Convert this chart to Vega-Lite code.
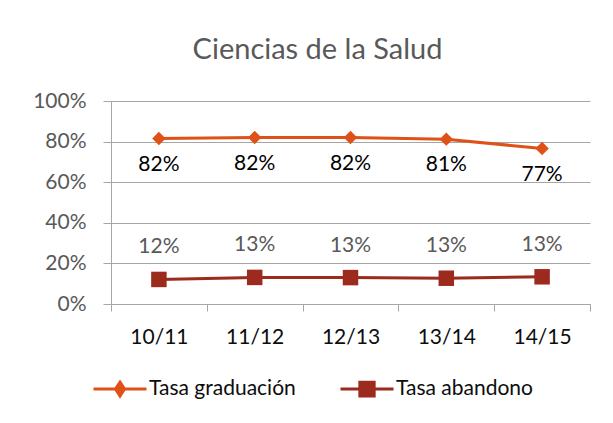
{
  "$schema": "https://vega.github.io/schema/vega-lite/v6.json",
  "width": 479,
  "height": 203,
  "autosize": {"type": "none"},
  "padding": {"left": 111, "top": 101, "right": 23, "bottom": 119},
  "background": "#ffffff",
  "title": {
    "text": "Ciencias de la Salud",
    "font": "Lato",
    "fontSize": 29,
    "fontWeight": "normal",
    "color": "#595959",
    "anchor": "middle",
    "frame": "group",
    "dx": -33,
    "offset": 25
  },
  "data": {
    "values": [
      {"periodo": "10/11", "serie": "Tasa graduación", "valor": 0.815},
      {"periodo": "11/12", "serie": "Tasa graduación", "valor": 0.82},
      {"periodo": "12/13", "serie": "Tasa graduación", "valor": 0.82},
      {"periodo": "13/14", "serie": "Tasa graduación", "valor": 0.812},
      {"periodo": "14/15", "serie": "Tasa graduación", "valor": 0.766},
      {"periodo": "10/11", "serie": "Tasa abandono", "valor": 0.121},
      {"periodo": "11/12", "serie": "Tasa abandono", "valor": 0.131},
      {"periodo": "12/13", "serie": "Tasa abandono", "valor": 0.13},
      {"periodo": "13/14", "serie": "Tasa abandono", "valor": 0.127},
      {"periodo": "14/15", "serie": "Tasa abandono", "valor": 0.134}
    ]
  },
  "encoding": {
    "x": {
      "field": "periodo",
      "type": "ordinal",
      "sort": ["10/11", "11/12", "12/13", "13/14", "14/15"],
      "scale": {"type": "band", "paddingInner": 0, "paddingOuter": 0},
      "axis": {
        "title": null,
        "labelAngle": 0,
        "tickBand": "extent",
        "tickSize": 7,
        "tickColor": "#a6a6a6",
        "domainColor": "#a6a6a6",
        "labelColor": "#0d0d0d",
        "labelPadding": 15,
        "grid": false
      }
    },
    "y": {
      "field": "valor",
      "type": "quantitative",
      "scale": {"domain": [0, 1], "nice": false},
      "axis": {
        "title": null,
        "format": ".0%",
        "values": [0, 0.2, 0.4, 0.6, 0.8, 1],
        "grid": true,
        "gridColor": "#a6a6a6",
        "domainColor": "#a6a6a6",
        "tickColor": "#a6a6a6",
        "tickSize": 8,
        "labelPadding": 17,
        "labelColor": "#595959"
      }
    },
    "color": {
      "field": "serie",
      "type": "nominal",
      "scale": {"domain": ["Tasa graduación", "Tasa abandono"], "range": ["#DF5217", "#9C2B1E"]},
      "legend": {
        "title": null,
        "orient": "none",
        "legendX": -19,
        "legendY": 260,
        "direction": "horizontal",
        "symbolSize": 2809,
        "symbolStrokeWidth": 3,
        "labelFont": "Lato",
        "labelFontSize": 21,
        "labelColor": "#0d0d0d",
        "labelOffset": 1,
        "columnPadding": 38,
        "encode": {
          "symbols": {
            "update": {
              "shape": [
                {"test": "datum.value === 'Tasa graduación'", "value": "M-1,0L1,0M0,-0.26L0.17,0L0,0.26L-0.17,0Z"},
                {"value": "M-1,0L1,0M-0.27,-0.26L0.27,-0.26L0.27,0.26L-0.27,0.26Z"}
              ],
              "fill": [
                {"test": "datum.value === 'Tasa graduación'", "value": "#DF5217"},
                {"value": "#9C2B1E"}
              ],
              "stroke": [
                {"test": "datum.value === 'Tasa graduación'", "value": "#DF5217"},
                {"value": "#9C2B1E"}
              ],
              "size": {"value": 2809},
              "strokeWidth": {"value": 3},
              "opacity": {"value": 1},
              "fillOpacity": {"value": 1},
              "strokeOpacity": {"value": 1}
            }
          }
        }
      }
    }
  },
  "layer": [
    {
      "mark": {"type": "line", "strokeWidth": 3}
    },
    {
      "transform": [{"filter": "datum.serie === 'Tasa graduación'"}],
      "mark": {"type": "point", "filled": true, "opacity": 1, "shape": "diamond", "size": 180}
    },
    {
      "transform": [{"filter": "datum.serie === 'Tasa abandono'"}],
      "mark": {"type": "point", "filled": true, "opacity": 1, "shape": "square", "size": 240}
    },
    {
      "transform": [{"filter": "datum.serie === 'Tasa graduación'"}],
      "mark": {"type": "text", "font": "Lato", "fontSize": 21, "dy": 26, "baseline": "middle"},
      "encoding": {
        "text": {"field": "valor", "type": "quantitative", "format": ".0%"},
        "color": {"value": "#000000"}
      }
    },
    {
      "transform": [{"filter": "datum.serie === 'Tasa abandono'"}],
      "mark": {"type": "text", "font": "Lato", "fontSize": 21, "dy": -32, "baseline": "middle"},
      "encoding": {
        "text": {"field": "valor", "type": "quantitative", "format": ".0%"},
        "color": {"value": "#595959"}
      }
    }
  ],
  "config": {
    "view": {"stroke": null},
    "axis": {"labelFont": "Lato", "labelFontSize": 21}
  }
}
